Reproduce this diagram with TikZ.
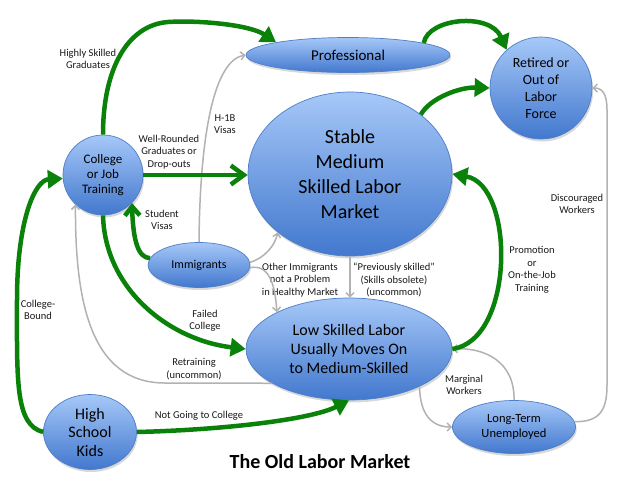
\documentclass[tikz,border=0pt]{standalone}
\usepackage{fontspec}
\setmainfont{Carlito}
\usetikzlibrary{shapes.geometric,arrows.meta,shadows}
\definecolor{nodeTop}{RGB}{166,200,248}
\definecolor{nodeBot}{RGB}{66,120,206}
\definecolor{nodeEdge}{RGB}{78,126,200}
\definecolor{grn}{RGB}{10,130,10}
\definecolor{gry}{RGB}{178,178,178}
\newcommand\fsz[2]{\fontsize{#1}{#2}\selectfont}
\begin{document}
\begin{tikzpicture}[x=1pt,y=-1pt,
  bubble/.style={draw=nodeEdge, line width=0.7pt, top color=nodeTop, bottom color=nodeBot,
    inner sep=0pt, align=center, text=black,
    drop shadow={opacity=0.3, shadow xshift=1.2pt, shadow yshift=-2.5pt}},
  lbl/.style={font=\fsz{10.5}{12.5}, align=center, inner sep=0pt, text=black!90},
  gtri/.style={draw=grn, line width=4.5pt, -{Triangle[length=15pt,width=18pt]}},
  gchev/.style={draw=grn, line width=4.5pt, -{Straight Barb[length=13pt,width=19pt]}},
  gchevs/.style={draw=grn, line width=4.5pt, -{Straight Barb[length=9pt,width=15pt]}},
  gedge/.style={draw=gry, line width=1.5pt, -{Straight Barb[length=4pt,width=8pt]}}]
\useasboundingbox[fill=white] (0,0) rectangle (640,480);

% nodes
\node[bubble, ellipse, minimum width=204pt, minimum height=35pt, font=\fsz{15}{18}] (prof) at (348,55) {Professional};
\node[bubble, circle, minimum size=102pt, font=\fsz{14}{17}] (ret) at (541,88) {Retired or\\Out of\\Labor\\Force};
\node[bubble, ellipse, minimum width=204pt, minimum height=164pt, font=\fsz{20}{25}] (stable) at (350,174) {Stable\\Medium\\Skilled Labor\\Market};
\node[bubble, circle, minimum size=80pt, font=\fsz{13}{15}] (coll) at (103,175) {College\\or Job\\Training};
\node[bubble, ellipse, minimum width=102pt, minimum height=45pt, font=\fsz{12}{14}] (imm) at (199,265) {Immigrants};
\node[bubble, ellipse, minimum width=206pt, minimum height=102pt, font=\fsz{16}{19}] (low) at (349,349) {Low Skilled Labor\\Usually Moves On\\to Medium-Skilled};
\node[bubble, ellipse, minimum width=93pt, minimum height=75pt, font=\fsz{16}{18.5}] (hs) at (90,432) {High\\School\\Kids};
\node[bubble, ellipse, minimum width=123pt, minimum height=53pt, font=\fsz{12.5}{14.5}] (ltu) at (514,427) {Long-Term\\Unemployed};
\node[font=\bfseries\fsz{20}{24}] (title) at (320,462) {The Old Labor Market};

% labels
\node[lbl] (lhs) at (88,59) {Highly Skilled\\Graduates};
\node[lbl] (lwr) at (169,152) {Well-Rounded\\Graduates or\\Drop-outs};
\node[lbl] (lh1b) at (225,124) {H-1B\\Visas};
\node[lbl] (lsv) at (162,220) {Student\\Visas};
\node[lbl] (loi) at (300,280) {Other Immigrants\\not a Problem\\in Healthy Market};
\node[lbl] (lps) at (394,280) {“Previously skilled”\\(Skills obsolete)\\(uncommon)};
\node[lbl] (lfc) at (205,321) {Failed\\College};
\node[lbl] (lrt) at (194,369) {Retraining\\(uncommon)};
\node[lbl] (lcb) at (38,310) {College-\\Bound};
\node[lbl] (lng) at (199,416) {Not Going to College};
\node[lbl] (lmw) at (464,385) {Marginal\\Workers};
\node[lbl] (lpr) at (532,270) {Promotion\\or\\On-the-Job\\Training};
\node[lbl] (ldw) at (577,204) {Discouraged\\Workers};

% gray connectors
\draw[gedge] (imm.90) .. controls (200,130) and (215,60) .. (prof.180);
\draw[gedge] (imm.3) .. controls (265,258) and (275,245) .. (stable.219);
\draw[gedge] (imm.-3) .. controls (268,264) and (275,282) .. (low.153);
\draw[gedge] (stable.south) -- (stable.south |- low.north);
\draw[gedge] (low.204) -- (165,383) .. controls (90,383) and (75,300) .. (coll.227);
\draw[gedge] (low.-28) .. controls (420,415) and (432,427) .. (ltu.180);
\draw[gedge] (ltu.90) .. controls (515,362) and (485,347) .. (low.0);
\draw[gedge] (ltu.5) .. controls (600,422) and (607,410) .. (607,385) -- (607,110) .. controls (607,93) and (602,88) .. (ret.0);

% green connectors
\draw[gtri] (coll.90) .. controls (103,68) and (128,25) .. (168,22) .. controls (200,20) and (250,25) .. (prof.170);
\draw[gtri] (prof.9) .. controls (428,18) and (490,12) .. (ret.132);
\draw[gtri] (stable.40) .. controls (430,98) and (460,87) .. (ret.180);
\draw[gchev] (coll.east) -- (coll.east -| stable.west);
\draw[gchevs] (imm.172) .. controls (138,258) and (133,240) .. (coll.-44);
\draw[gtri] (coll.south) .. controls (105,290) and (170,340) .. (low.180);
\draw[gtri] (hs.180) .. controls (15,425) and (17,380) .. (17,300) .. controls (17,220) and (35,180) .. (coll.185);
\draw[gtri] (hs.0) .. controls (220,430) and (310,420) .. (low.270);
\draw[gtri] (low.0) .. controls (515,340) and (515,185) .. (stable.0);
\end{tikzpicture}
\end{document}
